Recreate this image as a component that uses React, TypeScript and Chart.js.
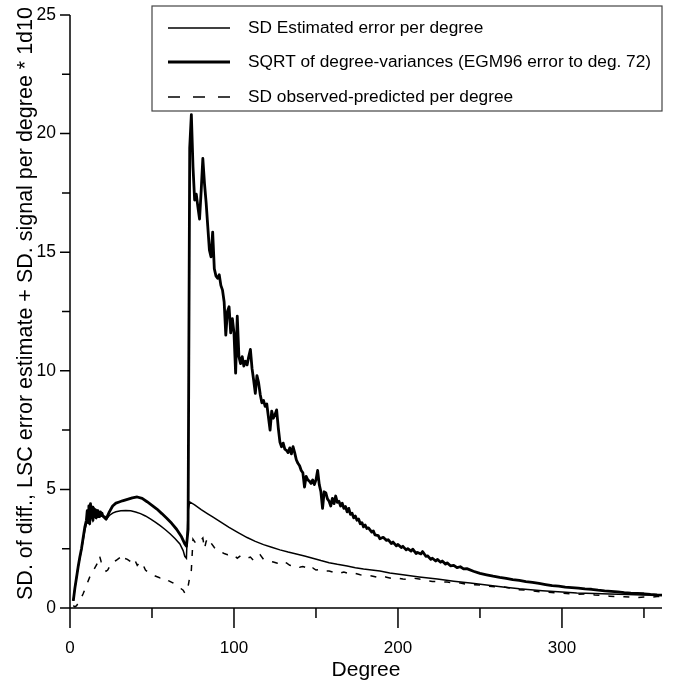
import React, { useEffect, useRef } from 'react';
import { Chart, registerables } from 'chart.js';

Chart.register(...registerables);

const FONT = "'Liberation Sans', Arial, Helvetica, sans-serif";

// [degree, value]
const estimatedError: [number, number][] = [
  [2,0.3],[3,0.85],[4,1.3],[5,1.75],[6,2.1],[7,2.45],[8,2.85],[9,3.25],[10,3.55],[11,3.85],[12,3.6],[13,4.0],[14,3.7],[15,3.95],[16,3.8],[17,4.0],[18,3.85],[19,3.95],[20,3.85],[21,3.78],[22,3.72],[24,3.9],[26,4.0],[28,4.06],[31,4.1],[34,4.11],[37,4.1],[40,4.05],[43,3.98],[46,3.88],[49,3.76],[52,3.62],[55,3.47],[58,3.31],[61,3.13],[64,2.93],[67,2.7],[69,2.42],[70,2.18],[71,2.1],[72,4.1],[73,4.47],[76,4.35],[80,4.15],[84,3.97],[87,3.84],[92,3.62],[97,3.4],[102,3.2],[108,2.97],[113,2.81],[118,2.67],[123,2.56],[128,2.45],[133,2.36],[138,2.28],[143,2.19],[148,2.1],[153,2.0],[158,1.91],[163,1.84],[169,1.77],[174,1.7],[179,1.64],[184,1.6],[189,1.56],[195,1.48],[203,1.4],[213,1.31],[224,1.22],[234,1.13],[244,1.05],[254,0.97],[264,0.89],[274,0.81],[288,0.73],[300,0.67],[309,0.63],[320,0.61],[329,0.59],[340,0.57],[349,0.55],[361,0.54]
];

const sqrtDegreeVariances: [number, number][] = [
  [2,0.3],[3,0.85],[4,1.3],[5,1.75],[6,2.15],[7,2.5],[8,2.95],[9,3.4],[10,3.7],[10.5,4.1],[11,3.6],[11.5,4.3],[12,3.55],[12.5,4.4],[13,3.8],[13.5,4.25],[14,3.7],[14.5,4.2],[15,3.85],[15.5,4.15],[16,3.8],[16.5,4.1],[17,3.85],[17.5,4.05],[18,3.85],[18.5,4.05],[19,3.9],[19.5,4.0],[20,3.88],[21,3.85],[22,3.75],[24,4.05],[26,4.3],[28,4.42],[30,4.47],[32,4.52],[35,4.58],[38,4.64],[41,4.68],[44,4.62],[47,4.48],[50,4.33],[53,4.17],[56,3.98],[59,3.78],[62,3.57],[65,3.32],[68,3.0],[70,2.7],[71,2.6],[72,3.3],[73,19.4],[74,20.8],[75,18.6],[76,17.2],[77,17.45],[78,16.9],[79,16.4],[80,17.6],[81,18.95],[82,17.9],[83,17.1],[84,16.1],[85,15.1],[86,14.8],[87,15.85],[88,14.3],[89,14.0],[90,13.9],[91,14.05],[92,13.6],[93,13.4],[94,12.9],[95,11.5],[96,12.5],[97,12.7],[98,11.6],[99,12.2],[100,11.6],[101,9.9],[102,12.3],[103,10.6],[104,10.3],[105,10.6],[106,10.2],[107,10.4],[108,10.25],[109,10.6],[110,10.9],[111,10.1],[112,9.6],[113,9.05],[114,9.8],[115,9.5],[116,9.0],[117,8.65],[118,8.75],[119,8.5],[120,8.6],[121,8.05],[122,7.5],[123,8.3],[124,8.0],[125,8.15],[126,8.35],[127,7.6],[128,7.0],[129,6.8],[130,6.95],[131,6.7],[132,6.65],[133,6.55],[134,6.75],[135,6.5],[136,6.8],[137,6.55],[138,6.25],[139,6.1],[140,6.0],[141,5.8],[142,5.7],[143,5.1],[144,5.55],[145,5.4],[146,5.35],[147,5.25],[148,5.4],[149,5.2],[150,5.4],[151,5.8],[152,5.2],[153,4.9],[154,4.2],[155,4.9],[156,4.85],[157,4.6],[158,4.5],[159,4.3],[160,4.62],[161,4.4],[162,4.72],[163,4.45],[164,4.5],[165,4.3],[166,4.42],[167,4.2],[168,4.28],[169,4.05],[170,4.2],[171,3.95],[172,4.0],[173,3.8],[174,3.88],[175,3.7],[176,3.75],[177,3.55],[178,3.6],[179,3.42],[180,3.5],[181,3.35],[182,3.38],[184,3.2],[185,3.25],[186,3.08],[188,3.05],[189,2.92],[191,2.98],[193,2.85],[194,2.88],[196,2.72],[197,2.78],[199,2.62],[200,2.68],[202,2.55],[203,2.6],[205,2.45],[206,2.5],[208,2.4],[209,2.48],[211,2.3],[212,2.34],[214,2.28],[215,2.38],[217,2.18],[218,2.2],[220,2.05],[221,2.1],[223,1.98],[224,2.05],[226,1.93],[227,1.98],[229,1.85],[230,1.9],[232,1.78],[234,1.8],[236,1.7],[238,1.74],[240,1.65],[242,1.66],[246,1.55],[250,1.46],[254,1.4],[258,1.34],[262,1.29],[266,1.25],[270,1.2],[274,1.16],[278,1.11],[282,1.08],[286,1.04],[290,0.99],[294,0.94],[298,0.92],[302,0.88],[306,0.86],[310,0.84],[314,0.81],[318,0.79],[322,0.75],[326,0.72],[330,0.7],[334,0.68],[338,0.65],[342,0.63],[346,0.62],[350,0.6],[354,0.57],[358,0.55],[361,0.54]
];

const observedPredicted: [number, number][] = [
  [2,0.1],[3,0.05],[4,0.1],[5,0.2],[6,0.3],[7,0.45],[8,0.6],[10,0.95],[12,1.3],[14,1.55],[16,1.8],[17,1.93],[18,2.2],[19,1.95],[20,1.8],[21,1.65],[22,1.55],[23,1.6],[25,1.85],[26,1.94],[28,2.0],[30,2.1],[31,2.15],[32,2.0],[33,2.1],[35,2.05],[37,1.95],[39,2.1],[41,1.8],[43,1.95],[44,1.9],[46,1.6],[48,1.48],[50,1.45],[52,1.35],[55,1.27],[57,1.3],[60,1.15],[63,1.05],[65,0.95],[67,0.85],[69,0.75],[70,0.63],[71,0.65],[72,0.9],[73,1.3],[74,1.6],[75,2.9],[76,2.8],[77,2.7],[79,2.8],[81,2.95],[82,2.5],[83,2.8],[84,2.95],[86,2.74],[88,2.55],[90,2.4],[92,2.36],[94,2.3],[96,2.25],[98,2.3],[100,2.24],[102,2.1],[104,2.2],[106,2.1],[108,2.1],[110,2.15],[112,2.0],[114,2.1],[116,2.24],[118,2.05],[120,2.0],[122,1.97],[124,1.94],[126,1.9],[128,1.85],[130,1.95],[132,1.9],[134,1.8],[136,1.78],[138,1.8],[140,1.72],[142,1.75],[144,1.7],[146,1.6],[148,1.69],[150,1.6],[152,1.62],[155,1.55],[158,1.56],[161,1.5],[164,1.45],[167,1.52],[170,1.45],[173,1.48],[177,1.4],[181,1.38],[184,1.35],[187,1.3],[190,1.35],[193,1.3],[196,1.25],[199,1.27],[203,1.22],[207,1.2],[210,1.25],[213,1.22],[217,1.15],[221,1.12],[226,1.1],[230,1.1],[234,1.05],[238,1.05],[242,1.0],[246,0.98],[250,0.97],[255,0.92],[259,0.9],[264,0.89],[268,0.84],[272,0.78],[277,0.76],[282,0.72],[287,0.68],[292,0.66],[296,0.64],[300,0.63],[305,0.6],[310,0.58],[315,0.59],[320,0.55],[325,0.52],[329,0.5],[334,0.48],[338,0.47],[342,0.46],[346,0.44],[350,0.46],[354,0.46],[358,0.48],[361,0.5]
];

const xMajorTicks = [0, 100, 200, 300];
const xMinorTicks = [50, 150, 250, 350];
const yMajorTicks = [0, 5, 10, 15, 20, 25];
const yMinorTicks = [2.5, 7.5, 12.5, 17.5, 22.5];

const seriesLabels = [
  'SD Estimated error per degree',
  'SQRT of degree-variances (EGM96 error to deg. 72)',
  'SD observed-predicted per degree',
];

const xTitle = 'Degree';
const yTitle = 'SD. of diff., LSC error estimate + SD. signal per degree * 1d10';

const toPoints = (arr: [number, number][]) => arr.map(([x, y]) => ({ x, y }));

const axesPlugin = {
  id: 'customAxes',
  afterDraw(chart: any) {
    const { ctx, chartArea, scales } = chart;
    const xs = scales.x;
    const ys = scales.y;
    ctx.save();
    ctx.strokeStyle = '#000';
    ctx.lineWidth = 1.5;
    ctx.lineCap = 'butt';
    // axis lines
    ctx.beginPath();
    ctx.moveTo(chartArea.left, chartArea.top);
    ctx.lineTo(chartArea.left, chartArea.bottom);
    ctx.moveTo(chartArea.left, chartArea.bottom);
    ctx.lineTo(chartArea.right, chartArea.bottom);
    ctx.stroke();
    // ticks
    ctx.beginPath();
    xMajorTicks.forEach((v) => {
      const px = xs.getPixelForValue(v);
      ctx.moveTo(px, chartArea.bottom);
      ctx.lineTo(px, chartArea.bottom + 20);
    });
    xMinorTicks.forEach((v) => {
      const px = xs.getPixelForValue(v);
      ctx.moveTo(px, chartArea.bottom);
      ctx.lineTo(px, chartArea.bottom + 10);
    });
    yMajorTicks.forEach((v) => {
      const py = ys.getPixelForValue(v);
      ctx.moveTo(chartArea.left, py);
      ctx.lineTo(chartArea.left - 10, py);
    });
    yMinorTicks.forEach((v) => {
      const py = ys.getPixelForValue(v);
      ctx.moveTo(chartArea.left, py);
      ctx.lineTo(chartArea.left - 8, py);
    });
    ctx.stroke();

    // y-axis title
    ctx.save();
    ctx.fillStyle = '#000';
    ctx.font = `21.5px ${FONT}`;
    ctx.textAlign = 'center';
    ctx.textBaseline = 'alphabetic';
    ctx.translate(32, (chartArea.top + chartArea.bottom) / 2 - 8);
    ctx.rotate(-Math.PI / 2);
    ctx.fillText(yTitle, 0, 0);
    ctx.restore();

    // legend
    const bx = chartArea.left + 82;
    const by = chartArea.top - 9;
    const bw = chartArea.right - bx;
    const bh = 105;
    ctx.fillStyle = '#fff';
    ctx.fillRect(bx, by, bw, bh);
    ctx.lineWidth = 1.2;
    ctx.strokeStyle = '#444';
    ctx.strokeRect(bx, by, bw, bh);
    const rows = [by + 22, by + 56, by + 91];
    const widths = [1.5, 3, 1.5];
    const dashes = [[], [], [12, 13]];
    rows.forEach((ry, i) => {
      ctx.beginPath();
      ctx.strokeStyle = '#000';
      ctx.lineWidth = widths[i];
      ctx.setLineDash(dashes[i]);
      ctx.moveTo(bx + 16, ry);
      ctx.lineTo(bx + 78, ry);
      ctx.stroke();
      ctx.setLineDash([]);
      ctx.fillStyle = '#000';
      ctx.font = `17.3px ${FONT}`;
      ctx.textBaseline = 'middle';
      ctx.textAlign = 'left';
      ctx.fillText(seriesLabels[i], bx + 96, ry);
    });
    ctx.restore();
  },
};

export default function App() {
  const canvasRef = useRef<HTMLCanvasElement | null>(null);

  useEffect(() => {
    if (!canvasRef.current) return;
    Chart.defaults.color = '#000';
    Chart.defaults.font.family = FONT;
    const chart = new Chart(canvasRef.current, {
      type: 'line',
      data: {
        datasets: [
          {
            label: seriesLabels[0],
            data: toPoints(estimatedError),
            borderColor: '#000',
            borderWidth: 1.5,
            pointRadius: 0,
            tension: 0,
            fill: false,
          },
          {
            label: seriesLabels[1],
            data: toPoints(sqrtDegreeVariances),
            borderColor: '#000',
            borderWidth: 2.8,
            pointRadius: 0,
            tension: 0,
            fill: false,
            borderJoinStyle: 'round',
          },
          {
            label: seriesLabels[2],
            data: toPoints(observedPredicted),
            borderColor: '#000',
            borderWidth: 1.5,
            borderDash: [6, 9],
            pointRadius: 0,
            tension: 0,
            fill: false,
          },
        ],
      },
      options: {
        animation: false,
        responsive: true,
        maintainAspectRatio: false,
        layout: { padding: { top: 15, right: 13, left: 0, bottom: 0 } },
        plugins: {
          legend: { display: false },
          tooltip: { enabled: false },
        },
        scales: {
          x: {
            type: 'linear',
            min: 0,
            max: 361,
            grid: { display: false, drawTicks: false },
            border: { display: false },
            ticks: {
              stepSize: 100,
              autoSkip: false,
              maxRotation: 0,
              padding: 30,
              font: { size: 17 },
              callback: (v: any) => (xMajorTicks.includes(Number(v)) ? String(v) : ''),
            },
            title: {
              display: true,
              text: xTitle,
              font: { size: 21 },
              padding: { top: 0, bottom: 0 },
            },
            afterFit: (s: any) => {
              s.height = 75;
              s.paddingLeft = 0;
              s.paddingRight = 0;
            },
          },
          y: {
            type: 'linear',
            min: 0,
            max: 25,
            grid: { display: false, drawTicks: false },
            border: { display: false },
            ticks: {
              stepSize: 5,
              padding: 14,
              font: { size: 17.5 },
            },
            title: { display: false },
            afterFit: (s: any) => {
              s.width = 70;
              s.paddingTop = 0;
              s.paddingBottom = 0;
            },
          },
        },
      },
      plugins: [axesPlugin],
    });
    return () => chart.destroy();
  }, []);

  return (
    <div style={{ position: 'fixed', left: 0, top: 0, width: 675, height: 683, background: '#fff' }}>
      <canvas ref={canvasRef} />
    </div>
  );
}
